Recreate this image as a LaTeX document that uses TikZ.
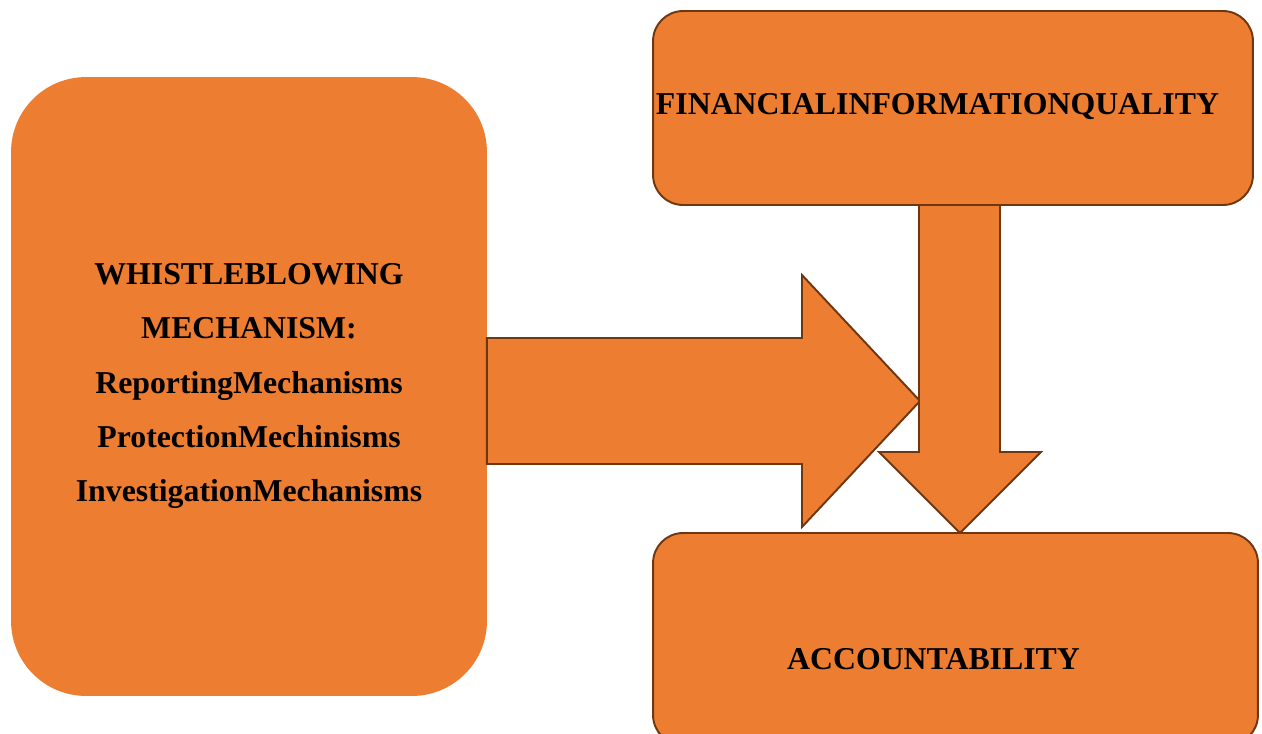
\documentclass[tikz,border=0pt]{standalone}
\usepackage{fontspec}
\setmainfont{Liberation Serif}
\definecolor{boxfill}{RGB}{237,125,49}
\definecolor{boxline}{RGB}{110,55,18}
\begin{document}
\begin{tikzpicture}[x=0.02cm,y=-0.02cm,
  box/.style={rectangle,fill=boxfill,inner sep=0pt,outer sep=0pt},
  framed/.style={box,draw=boxline,line width=1.1pt,rounded corners=0.6cm},
  blockarrow/.style={fill=boxfill,draw=boxline,line width=1.1pt,line join=miter},
  lbl/.style={font=\fontsize{18.1}{31}\selectfont\bfseries,text=black,align=center,inner sep=0pt}]
\useasboundingbox (0,0) rectangle (1262,734);
\clip (0,0) rectangle (1262,734);
% left box
\node[box,rounded corners=1.5cm,minimum width=9.52cm,minimum height=12.38cm] (wb) at (249,386.5) {};
% right block arrow
\draw[blockarrow] (wb.east |- 0,338) -- (802,338) -- (802,275) -- (920,401) -- (802,527) -- (802,464) -- (wb.east |- 0,464) -- cycle;
% down block arrow
\draw[blockarrow] (919,200) -- (1000,200) -- (1000,452) -- (1041,452) -- (960,533) -- (879,452) -- (919,452) -- cycle;
% top box
\node[framed,minimum width=12cm,minimum height=3.88cm] (fiq) at (953,108) {};
% bottom box
\node[framed,minimum width=12.1cm,minimum height=4.24cm] (acc) at (955.5,639) {};
% texts
\node[lbl] (wbt) at (249,386) {WHISTLEBLOWING\\MECHANISM:\\ReportingMechanisms\\ProtectionMechinisms\\InvestigationMechanisms};
\node[lbl] (fiqt) at (937.5,107) {FINANCIALINFORMATIONQUALITY};
\node[lbl] (acct) at (933.5,659) {ACCOUNTABILITY};
\end{tikzpicture}
\end{document}
